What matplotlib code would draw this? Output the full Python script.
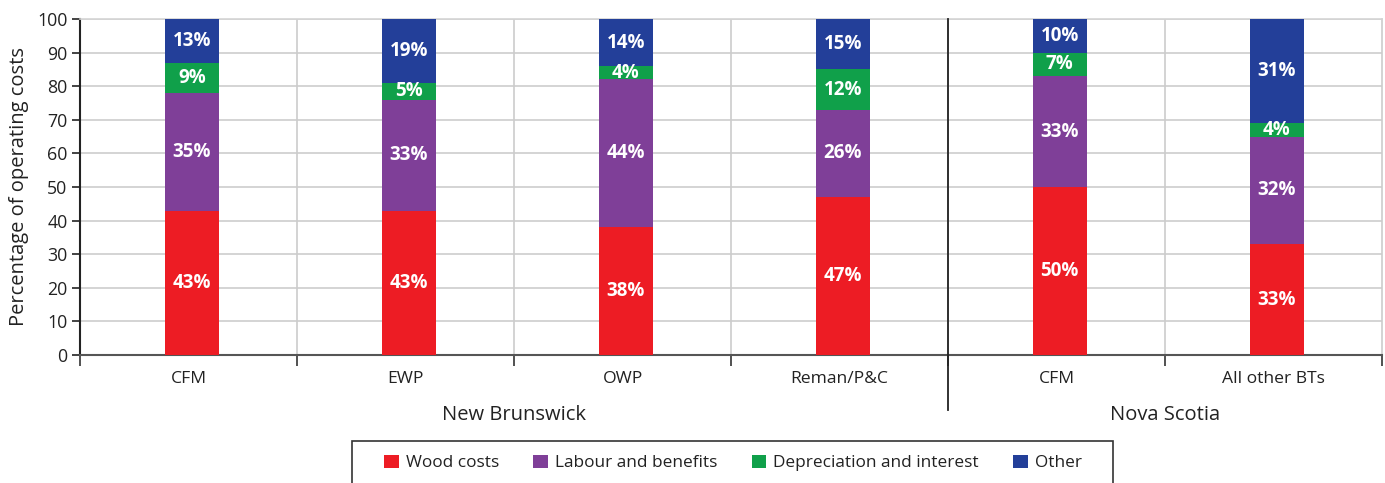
import numpy as np
import matplotlib.pyplot as plt
from matplotlib.lines import Line2D
from matplotlib.patches import Patch, Rectangle

plt.rcParams['font.family'] = ['Open Sans', 'DejaVu Sans']

# Share of operating costs (%) by business type
categories = ['CFM', 'EWP', 'OWP', 'Reman/P&C', 'CFM', 'All other BTs']
groups = ['New Brunswick', 'Nova Scotia']
group_sizes = [4, 2]
wood = [43, 43, 38, 47, 50, 33]
labour = [35, 33, 44, 26, 33, 32]
depreciation = [9, 5, 4, 12, 7, 4]
other = [13, 19, 14, 15, 10, 31]

series = [('Wood costs', wood, '#ED1C24'),
          ('Labour and benefits', labour, '#7F3F98'),
          ('Depreciation and interest', depreciation, '#10A04A'),
          ('Other', other, '#233F99')]

W, H = 1385, 483
fig = plt.figure(figsize=(W / 100, H / 100), dpi=100)
ax = fig.add_axes([80 / W, 1 - 355 / H, (1382 - 80) / W, (355 - 19) / H])

x = np.arange(len(categories))
bottom = np.zeros(len(categories))
for name, vals, col in series:
    vals = np.array(vals, dtype=float)
    ax.bar(x + 0.015, vals, 0.25, bottom=bottom, color=col, zorder=3)
    for xi, b, v in zip(x, bottom, vals):
        ax.text(xi + 0.015, b + v / 2, '%d%%' % v, ha='center', va='center',
                color='white', fontsize=13.5, fontweight='bold', zorder=4)
    bottom += vals

ax.set_xlim(-0.5, len(categories) - 0.5)
ax.set_ylim(0, 100)
ax.set_yticks(np.arange(0, 101, 10))
ax.tick_params(axis='y', labelsize=12.8, colors='#222222', length=6, width=1.2, pad=3)
ax.set_ylabel('Percentage of operating costs', fontsize=14.5, color='#222222', labelpad=6)

# category boundaries: light vertical grid and outward ticks
bounds = np.arange(-0.5, len(categories), 1.0)
ax.set_xticks(bounds)
ax.set_xticklabels([])
ax.tick_params(axis='x', length=8, width=1.2, colors='#333333', direction='out')
for b in bounds[1:-1]:
    ax.axvline(b, color='#cccccc', lw=1.2, zorder=1)
ax.yaxis.grid(True, color='#d4d4d4', lw=1.4, zorder=1)
ax.set_axisbelow(True)

ax.spines['left'].set_color('#222222')
ax.spines['left'].set_linewidth(1.5)
ax.spines['bottom'].set_color('#555555')
ax.spines['bottom'].set_linewidth(1.5)
ax.spines['top'].set_color('#d4d4d4')
ax.spines['right'].set_color('#cccccc')
ax.spines['top'].set_linewidth(1.2)
ax.spines['right'].set_linewidth(1.2)

trans = ax.get_xaxis_transform()
for xi, lab in zip(x, categories):
    ax.text(xi, -24 / 336, lab, transform=trans, ha='center', va='center',
            fontsize=12.6, color='#222222')

# province groups with a dark separator
start = 0
for g, n in zip(groups, group_sizes):
    centre = start + n / 2 - 0.5
    ax.text(centre, -60 / 336, g, transform=trans, ha='center', va='center',
            fontsize=14.5, color='#222222')
    start += n
    if start < len(categories):
        ax.add_line(Line2D([start - 0.5, start - 0.5], [1, -55 / 336], transform=trans,
                           color='#222222', lw=1.3, clip_on=False, zorder=5))

# legend box runs off the bottom edge
fig.patches.append(Rectangle((352 / W, -0.05), (1113 - 352) / W, 0.05 + 1 - 441 / H,
                             transform=fig.transFigure, fill=False,
                             edgecolor='#333333', lw=1.2))
handles = [Patch(facecolor=c, edgecolor='none') for _, _, c in series]
leg = fig.legend(handles, [s[0] for s in series], ncol=4, loc='center',
                 bbox_to_anchor=(733 / W, 1 - 463 / H), fontsize=12.4,
                 frameon=False, handlelength=0.85, handleheight=0.85,
                 handletextpad=0.4, columnspacing=2.0, borderaxespad=0)
for t in leg.get_texts():
    t.set_color('#222222')

fig.savefig('out.png', dpi=100)
